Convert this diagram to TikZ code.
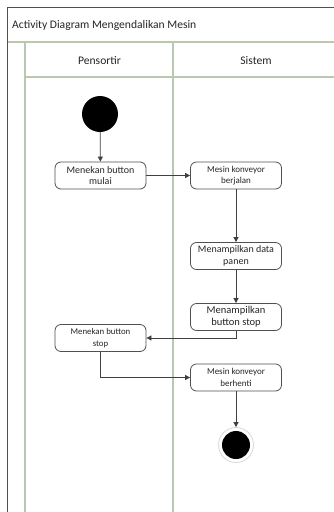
\documentclass[tikz,border=0pt]{standalone}
\usepackage{fontspec}
\setmainfont{Carlito}
\usetikzlibrary{arrows.meta}
\definecolor{frame}{HTML}{505050}
\definecolor{lanec}{HTML}{B9C8AE}
\definecolor{boxc}{HTML}{505050}
\definecolor{txt}{HTML}{262626}
\tikzset{
  act/.style={draw=boxc, text=txt, line width=0.8pt, rounded corners=6pt, minimum width=91pt, minimum height=27pt, align=center, inner sep=1pt, fill=white},
  flow/.style={draw=black!75, line width=0.8pt, -{Triangle[length=5pt,width=5pt]}},
  lane/.style={draw=lanec, line width=1.2pt},
  head/.style={font=\fontsize{11.6}{13}\selectfont, inner sep=0pt, text=txt},
}
\begin{document}
\begin{tikzpicture}[x=1pt,y=-1pt]
\useasboundingbox (0,0) rectangle (334,512);
\fill[white] (0,0) rectangle (334,512);
\clip (0,0) rectangle (334,512);
% frame
\draw[lane] (7,42) -- (340,42);
\draw[lane] (25,42) -- (25,520);
\draw[lane] (25,77) -- (340,77);
\draw[lane] (173,42) -- (173,520);
\draw[draw=frame, line width=1pt] (7,520) -- (7,7) -- (340,7);
\node[head, anchor=west] (title) at (12,25) {Activity Diagram Mengendalikan Mesin};
\node[head] (h1) at (99.5,60.5) {Pensortir};
\node[head] (h2) at (256,60.5) {Sistem};
% nodes
\node[circle, fill=black, minimum size=36pt, inner sep=0pt] (start) at (100,114) {};
\node[act, font=\fontsize{10}{11.7}\selectfont] (a1) at (100.5,175.5) {Menekan button\\mulai};
\node[act, font=\fontsize{9}{11.7}\selectfont] (b1) at (236,175.5) {Mesin konveyor\\berjalan};
\node[act, font=\fontsize{10}{11.7}\selectfont] (b2) at (236,256) {Menampilkan data\\panen};
\node[act, font=\fontsize{10.5}{11.7}\selectfont] (b3) at (236,317) {Menampilkan\\button stop};
\node[act, font=\fontsize{8.8}{11.7}\selectfont] (a2) at (100.5,338) {Menekan button\\stop};
\node[act, font=\fontsize{9}{11.7}\selectfont] (b4) at (236,377.5) {Mesin konveyor\\berhenti};
\node[circle, draw=black!15, line width=0.8pt, fill=white, minimum size=35pt, inner sep=0pt] (end) at (236,445) {};
\node[circle, fill=black, minimum size=28pt, inner sep=0pt] (endin) at (end) {};
% flows
\draw[flow] (start) -- (a1);
\draw[flow] (a1) -- (b1);
\draw[flow] (b1) -- (b2);
\draw[flow] (b2) -- (b3);
\draw[flow] (b3.south) |- (a2.east);
\draw[flow] (a2.south) |- (b4.west);
\draw[flow] (b4) -- (end);
\end{tikzpicture}
\end{document}
